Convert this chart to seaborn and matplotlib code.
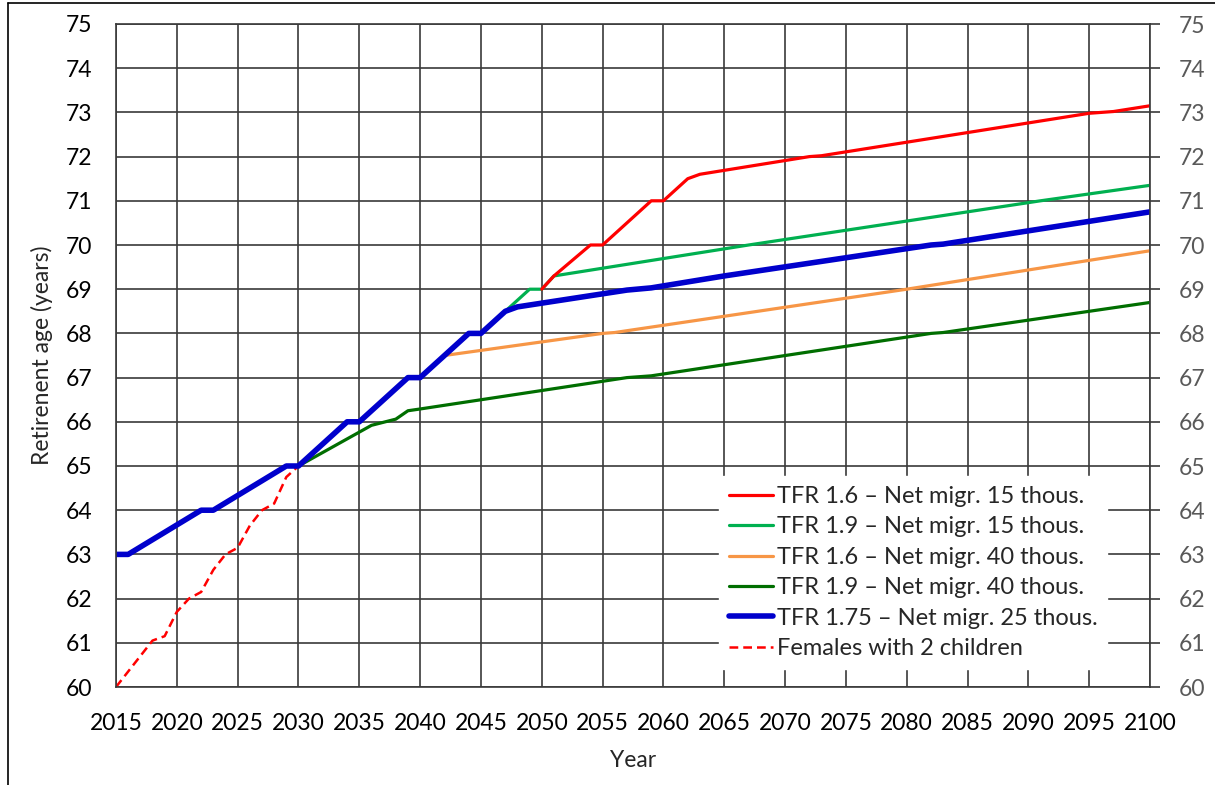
import numpy as np
import pandas as pd
import seaborn as sns
import matplotlib.ticker as mtick
from matplotlib import pyplot as plt
from matplotlib.lines import Line2D

# series (year, retirement age)
years_blue = [2015, 2016, 2022, 2023, 2029, 2030, 2034, 2035, 2039, 2040, 2044, 2045, 2047, 2048, 2057, 2059, 2065, 2082, 2083, 2100]
vals_blue = [63, 63, 64, 64, 65, 65, 66, 66, 67, 67, 68, 68, 68.5, 68.6, 68.98, 69.03, 69.3, 70.0, 70.02, 70.75]

years_green = [2047, 2049, 2050, 2051, 2067, 2091, 2100]
vals_green = [68.5, 69, 69, 69.3, 70.0, 71.0, 71.35]

years_red = [2050, 2051, 2054, 2055, 2059, 2060, 2062, 2063, 2072, 2073, 2084, 2095, 2097, 2100]
vals_red = [69, 69.3, 70, 70, 71, 71, 71.5, 71.6, 72.0, 72.02, 72.5, 72.98, 73.02, 73.15]

years_orange = [2042, 2055, 2056, 2080, 2100]
vals_orange = [67.5, 68.0, 68.02, 69.0, 69.87]

years_dkgreen = [2030, 2036, 2038, 2039, 2040, 2057, 2059, 2082, 2083, 2100]
vals_dkgreen = [65, 65.92, 66.06, 66.25, 66.29, 67.0, 67.04, 68.0, 68.02, 68.7]

years_fem = [2015, 2018, 2019, 2020, 2021, 2022, 2023, 2024, 2025, 2026, 2027, 2028, 2029, 2030]
vals_fem = [60, 61.05, 61.15, 61.7, 62.0, 62.15, 62.65, 63.0, 63.15, 63.65, 64.0, 64.15, 64.75, 65]

labels = ['TFR 1.6 \u2013 Net migr. 15 thous.',
          'TFR 1.9 \u2013 Net migr. 15 thous.',
          'TFR 1.6 \u2013 Net migr. 40 thous.',
          'TFR 1.9 \u2013 Net migr. 40 thous.',
          'TFR 1.75 \u2013 Net migr. 25 thous.',
          'Females with 2 children']

sns.set_theme(style="white")
plt.rcParams['font.family'] = ['Lato', 'DejaVu Sans']

fig = plt.figure(figsize=(12.15, 7.85), dpi=100)
ax = fig.add_axes([116 / 1215, 1 - 687 / 785, (1150 - 116) / 1215, (687 - 24) / 785])

grid_col = '#3a3a3a'
fs = 16.5

# draw order: blue on top
sns.lineplot(x=years_fem, y=vals_fem, ax=ax, color='#FF0000', lw=1.8, linestyle=(0, (3.5, 2)), label=labels[5])
sns.lineplot(x=years_dkgreen, y=vals_dkgreen, ax=ax, color='#006E00', lw=2.3, label=labels[3])
sns.lineplot(x=years_orange, y=vals_orange, ax=ax, color='#F79646', lw=2.3, label=labels[2])
sns.lineplot(x=years_green, y=vals_green, ax=ax, color='#00B050', lw=2.3, label=labels[1])
sns.lineplot(x=years_red, y=vals_red, ax=ax, color='#FF0000', lw=2.3, label=labels[0])
sns.lineplot(x=years_blue, y=vals_blue, ax=ax, color='#0000CC', lw=4.0, label=labels[4])

ax.set_xlim(2015, 2100)
ax.set_ylim(60, 75)
ax.set_xticks(np.arange(2015, 2101, 5))
ax.set_yticks(np.arange(60, 76, 1))
ax.grid(True, color=grid_col, lw=1.2)
for s in ax.spines.values():
    s.set_color(grid_col)
    s.set_linewidth(1.2)
ax.tick_params(axis='x', length=0, pad=19, labelsize=fs, labelcolor='black')
ax.tick_params(axis='y', length=0, pad=17, labelsize=fs, labelcolor='black')
ax.set_xlabel('Year', fontsize=fs, labelpad=11)
ax.set_ylabel('Retirenent age (years)', fontsize=fs, labelpad=9)

ax2 = ax.twinx()
ax2.set_ylim(60, 75)
ax2.set_yticks(np.arange(60, 76, 1))
ax2.tick_params(axis='y', direction='out', length=7, width=1.2, color=grid_col, pad=14,
                labelsize=fs, labelcolor='#595959')
for s in ax2.spines.values():
    s.set_visible(False)

# legend in the order of the reference
handles, labs = ax.get_legend_handles_labels()
order = [labs.index(l) for l in labels]
ax.legend([handles[i] for i in order], [labs[i] for i in order],
          loc='lower right', bbox_to_anchor=(0.97, 0.01), frameon=True, facecolor='white',
          edgecolor='white', framealpha=1, fontsize=17, handlelength=1.9,
          handletextpad=0.15, labelspacing=0.4, borderpad=0.4)

# page frame lines
fig.add_artist(Line2D([8 / 1215, 1], [1 - 3 / 785, 1 - 3 / 785], transform=fig.transFigure, color='black', lw=1.2))
fig.add_artist(Line2D([8 / 1215, 8 / 1215], [0, 1 - 3 / 785], transform=fig.transFigure, color='black', lw=1.2))

plt.savefig('out.png', dpi=100)
plt.close()
